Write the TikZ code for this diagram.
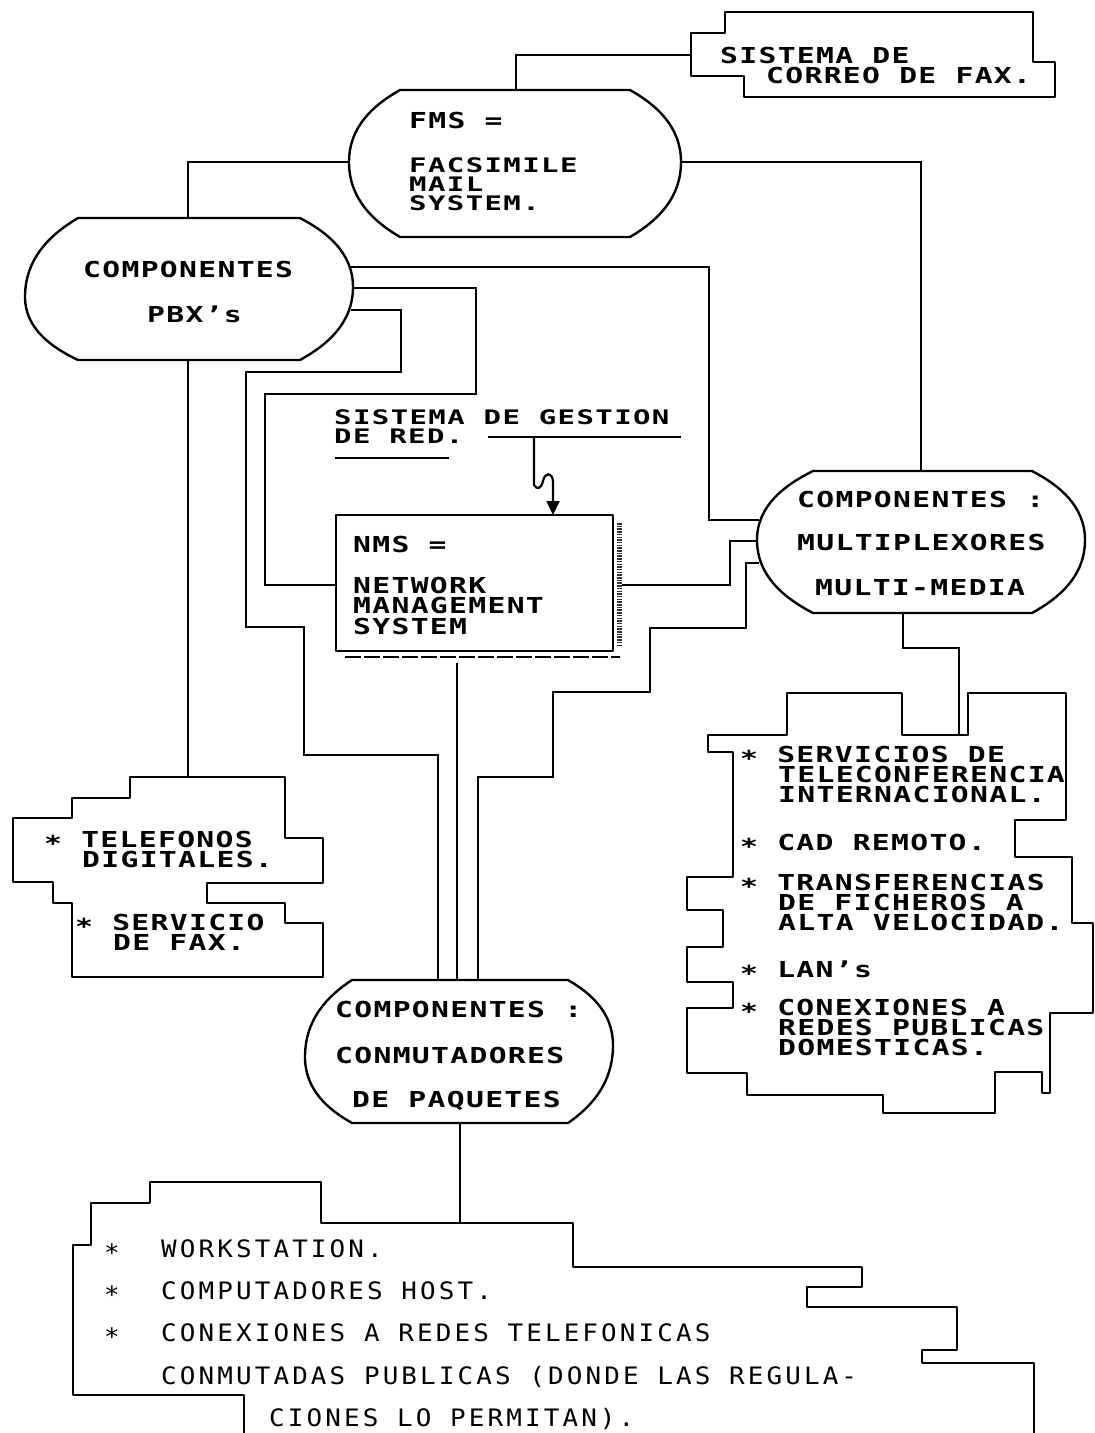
\documentclass[tikz,border=0pt]{standalone}
\usepackage{fontspec}
\usetikzlibrary{arrows.meta}
\newfontfamily\heavymono{DejaVu Sans Mono}[FakeStretch=1.35,LetterSpace=6]
\newfontfamily\stackmono{DejaVu Sans Mono}[FakeStretch=1.45,LetterSpace=7]
\newfontfamily\plainmono{DejaVu Sans Mono}[FakeStretch=1.08,LetterSpace=13]
\newcommand\headfont{\heavymono\bfseries\fontsize{22}{22}\selectfont}
\newcommand\stackfont{\stackmono\bfseries\fontsize{20}{19}\selectfont}
\newcommand\listfont{\plainmono\fontsize{24}{24}\selectfont}
\newcommand\bul{\raisebox{-4pt}{*}}
% rounded-end box: L, yL, a, b, R, yR, top, bottom
\newcommand\ovalpath[8]{%
  \pgfmathsetmacro\oA{#4+0.5*(#5-#4)}%
  \pgfmathsetmacro\oB{#3-0.5*(#3-#1)}%
  \pgfmathsetmacro\oC{#7+0.2*(#6-#7)}%
  \pgfmathsetmacro\oD{#7+0.5*(#6-#7)}%
  \pgfmathsetmacro\oE{#6+0.5*(#8-#6)}%
  \pgfmathsetmacro\oF{#8-0.2*(#8-#6)}%
  \pgfmathsetmacro\oG{#8-0.2*(#8-#2)}%
  \pgfmathsetmacro\oH{#2+0.5*(#8-#2)}%
  \pgfmathsetmacro\oI{#2-0.5*(#2-#7)}%
  \pgfmathsetmacro\oJ{#7+0.2*(#2-#7)}%
  \draw[outl] (#3,#7) -- (#4,#7) .. controls (\oA,\oC) and (#5,\oD) .. (#5,#6)
     .. controls (#5,\oE) and (\oA,\oF) .. (#4,#8) -- (#3,#8)
     .. controls (\oB,\oG) and (#1,\oH) .. (#1,#2)
     .. controls (#1,\oI) and (\oB,\oJ) .. cycle;}
\begin{document}
\begin{tikzpicture}[x=1pt,y=-1pt,
  ln/.style={line width=2.2pt},
  outl/.style={line width=2.4pt,line join=round},
  hd/.style={anchor=base west,inner sep=0pt,font=\headfont,text height=15pt,text depth=0pt},
  hdm/.style={anchor=north west,inner sep=0pt,align=left,font=\stackfont},
  li/.style={anchor=base west,inner sep=0pt,font=\listfont,text height=17pt,text depth=0pt}]
\useasboundingbox (0,0) rectangle (1095,1433);

% ---- rounded boxes ----
\ovalpath{349}{162}{400}{630}{681}{162}{90}{237}
\ovalpath{25}{297}{78}{300}{353}{287}{218}{360}
\ovalpath{757}{540}{813}{1032}{1085}{540}{471}{613}
\ovalpath{305}{1057}{352}{568}{613}{1045}{980}{1123}

% ---- NMS box with its shadow ----
\draw[outl] (336,515) rectangle (613,651);
\draw[line width=5pt,dash pattern=on 1.5pt off 1.2pt,black!80] (619,523) -- (619,647);
\draw[line width=2.2pt,dash pattern=on 16pt off 3pt] (345,657) -- (620,657);

% ---- stepped text boxes ----
\draw[outl] (725,12) -- (1033,12) -- (1033,62) -- (1055,62) -- (1055,97)
  -- (744,97) -- (744,76) -- (691,76) -- (691,33) -- (725,33) -- cycle;
\draw[outl] (130,777) -- (285,777) -- (285,838) -- (323,838) -- (323,883)
  -- (207,883) -- (207,903) -- (285,903) -- (285,923) -- (323,923) -- (323,977)
  -- (72,977) -- (72,903) -- (53,903) -- (53,882) -- (13,882) -- (13,818)
  -- (72,818) -- (72,798) -- (130,798) -- cycle;
\draw[outl] (787,693) -- (902,693) -- (902,735) -- (968,735) -- (968,693)
  -- (1066,693) -- (1066,820) -- (1015,820) -- (1015,857) -- (1072,857)
  -- (1072,923) -- (1093,923) -- (1093,1013) -- (1050,1013) -- (1050,1093)
  -- (1042,1093) -- (1042,1072) -- (995,1072) -- (995,1113) -- (883,1113)
  -- (883,1095) -- (747,1095) -- (747,1073) -- (687,1073) -- (687,1008)
  -- (733,1008) -- (733,982) -- (687,982) -- (687,947) -- (723,947)
  -- (723,910) -- (687,910) -- (687,877) -- (733,877) -- (733,752)
  -- (708,752) -- (708,735) -- (787,735) -- cycle;
\draw[outl] (244,1433) -- (244,1395) -- (73,1395) -- (73,1245) -- (91,1245)
  -- (91,1203) -- (150,1203) -- (150,1182) -- (321,1182) -- (321,1223)
  -- (573,1223) -- (573,1267) -- (862,1267) -- (862,1287) -- (807,1287)
  -- (807,1307) -- (957,1307) -- (957,1350) -- (922,1350) -- (922,1363)
  -- (1034,1363) -- (1034,1433);

% ---- connection points ----
\coordinate (fms-N) at (516,90);
\coordinate (fms-W) at (349,162);
\coordinate (fms-E) at (681,162);
\coordinate (fax-W) at (691,55);
\coordinate (pbx-N) at (188,218);
\coordinate (pbx-S) at (188,360);
\coordinate (pbx-E1) at (351,267);
\coordinate (pbx-E2) at (353,288);
\coordinate (pbx-E3) at (351,310);
\coordinate (mux-N) at (921,471);
\coordinate (mux-S) at (903,613);
\coordinate (mux-W1) at (759,520);
\coordinate (mux-W2) at (757,541);
\coordinate (mux-W3) at (759,563);
\coordinate (pkt-N1) at (438,980);
\coordinate (pkt-N2) at (457,980);
\coordinate (pkt-N3) at (478,980);
\coordinate (pkt-S) at (460,1123);
\coordinate (nms-N) at (553,515);
\coordinate (nms-W) at (336,585);
\coordinate (nms-E) at (622,585);
\coordinate (nms-S) at (457,663);
\coordinate (tel-N) at (188,777);
\coordinate (srv-N) at (959,735);
\coordinate (ws-N) at (460,1223);
\coordinate (gest-u) at (534,437);

% ---- connectors ----
\draw[ln] (fms-N) |- (fax-W);
\draw[ln] (fms-W) -| (pbx-N);
\draw[ln] (fms-E) -| (mux-N);
\draw[ln] (pbx-E1) -| (709,520) -- (mux-W1);
\draw[ln] (pbx-E2) -| (476,394) -| (265,585) -- (nms-W);
\draw[ln] (pbx-E3) -| (401,372) -| (246,627) -| (304,755) -| (pkt-N1);
\draw[ln] (pbx-S) -- (tel-N);
\draw[ln] (nms-S) -- (pkt-N2);
\draw[ln] (pkt-N3) |- (553,777) |- (650,692) |- (746,628) |- (mux-W3);
\draw[ln] (nms-E) -| (730,541) -- (mux-W2);
\draw[ln] (mux-S) |- (959,648) -- (srv-N);
\draw[ln] (pkt-S) -- (ws-N);
\draw[ln] (488,437) -- (gest-u) -- (681,437);
\draw[ln] (335,458) -- (449,458);
\draw[ln,-{Triangle[width=13pt,length=14pt]}] (gest-u) -- (534,485)
  .. controls (537,490) and (541,489) .. (543,481)
  .. controls (545,472) and (552,472) .. (553,481) -- (nms-N);

% ---- texts ----
\node[hd] (fax1) at (720,63) {SISTEMA DE};
\node[hd] (fax2) at (766,83) {CORREO DE FAX.};
\node[hd] (fms1) at (409,128) {FMS =};
\node[hdm] (fms2) at (409,157) {FACSIMILE\\MAIL\\SYSTEM.};
\node[hd] (pbx1) at (83,277) {COMPONENTES};
\node[hd] (pbx2) at (147,322) {PBX’s};
\node[hdm] (gst1) at (334,409) {SISTEMA DE GESTION\\DE RED.};
\node[hd] (nms1) at (353,552) {NMS =};
\node[hd] (nms2) at (353,593) {NETWORK};
\node[hd] (nms3) at (353,613) {MANAGEMENT};
\node[hd] (nms4) at (353,634) {SYSTEM};
\node[hd] (mux1) at (797,507) {COMPONENTES :};
\node[hd] (mux2) at (797,550) {MULTIPLEXORES};
\node[hd] (mux3) at (815,595) {MULTI-MEDIA};
\node[hd] (pkt1) at (335,1017) {COMPONENTES :};
\node[hd] (pkt2) at (335,1063) {CONMUTADORES};
\node[hd] (pkt3) at (352,1107) {DE PAQUETES};
\node[hd] (tel1) at (44,847) {\bul{} TELEFONOS};
\node[hd] (tel2) at (82,867) {DIGITALES.};
\node[hd] (tel3) at (75,930) {\bul{} SERVICIO};
\node[hd] (tel4) at (113,950) {DE FAX.};
\node[hd] (srv1) at (740,762) {\bul{} SERVICIOS DE};
\node[hd] (srv2) at (778,782) {TELECONFERENCIA};
\node[hd] (srv3) at (778,802) {INTERNACIONAL.};
\node[hd] (srv4) at (740,850) {\bul{} CAD REMOTO.};
\node[hd] (srv5) at (740,890) {\bul{} TRANSFERENCIAS};
\node[hd] (srv6) at (778,910) {DE FICHEROS A};
\node[hd] (srv7) at (778,930) {ALTA VELOCIDAD.};
\node[hd] (srv8) at (740,977) {\bul{} LAN’s};
\node[hd] (srv9) at (740,1015) {\bul{} CONEXIONES A};
\node[hd] (srv10) at (778,1035) {REDES PUBLICAS};
\node[hd] (srv11) at (778,1055) {DOMESTICAS.};
\node[li] (ws0a) at (104,1257) {\bul};
\node[li] (ws1) at (161,1257) {WORKSTATION.};
\node[li] (ws0b) at (104,1299) {\bul};
\node[li] (ws2) at (161,1299) {COMPUTADORES HOST.};
\node[li] (ws0c) at (104,1341) {\bul};
\node[li] (ws3) at (161,1341) {CONEXIONES A REDES TELEFONICAS};
\node[li] (ws4) at (161,1384) {CONMUTADAS PUBLICAS (DONDE LAS REGULA-};
\node[li] (ws5) at (269,1426) {CIONES LO PERMITAN).};
\end{tikzpicture}
\end{document}
